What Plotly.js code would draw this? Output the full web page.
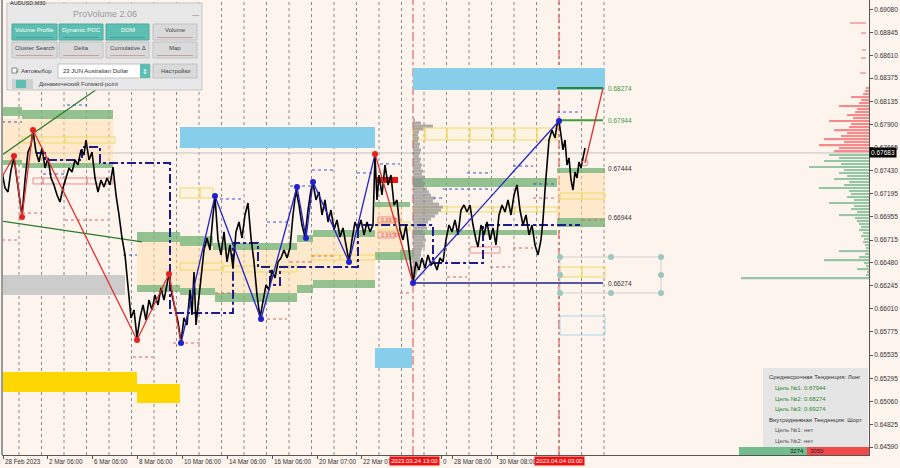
<!DOCTYPE html>
<html><head><meta charset="utf-8">
<script src="https://cdn.plot.ly/plotly-3.0.1.min.js"></script>
<style>html,body{margin:0;padding:0;background:#fdf4ee;}#chart{width:900px;height:468px;}</style>
</head><body><div id="chart"></div>
<script>
// ---------- DATA ----------
const barIdx = [2,5,8,11,14,17,20,22,25,28,31,33,36,39,42,45,48,51,54,57,60,63,66,69,72,75,78,81,84,86,89,92,95,98,101,104,107,110,113,116,119,122,125,127,129,131,134,137,140,143,146,149,152,155,158,161,164,167,169,172,175,178,181,184,187,190,192,194,196,198,201,204,207,210,213,215,218,221,224,227,230,233,236,239,242,245,248,251,254,257,260,263,266,269,272,275,278,281,284,287,290,293,296,299,302,305,308,311,313,316,319,322,325,328,331,334,337,340,343,346,349,352,355,358,361,364,367,370,373,375,377,379,382,385,388,391,394,397,400,403,406,409,411,413,416,419,422,425,428,431,434,437,440,443,446,449,452,455,458,461,464,467,470,473,476,478,481,484,487,490,493,496,499,502,505,508,511,514,517,520,523,526,529,532,535,538,541,543,545,547,549,552,555,557,559,561,563,565,567,569,571,573,575,577,579,581,583,585];
const closePrice = [0.67413,0.67249,0.67208,0.67433,0.67557,0.67351,0.67126,0.66962,0.67331,0.67618,0.67690,0.67834,0.67618,0.67516,0.67659,0.67454,0.67557,0.67351,0.67280,0.67177,0.67105,0.67249,0.67351,0.67454,0.67413,0.67536,0.67485,0.67639,0.67587,0.67741,0.67536,0.67618,0.67351,0.67208,0.67331,0.67259,0.67351,0.67280,0.67464,0.67177,0.66972,0.66736,0.66562,0.66357,0.66100,0.65916,0.65998,0.65711,0.65916,0.66049,0.65895,0.66100,0.65998,0.66152,0.66049,0.66223,0.66100,0.66254,0.66367,0.66152,0.65998,0.65875,0.65669,0.65916,0.65844,0.66203,0.65946,0.66387,0.65844,0.66049,0.66357,0.66613,0.66736,0.66613,0.66972,0.67157,0.66716,0.66562,0.66798,0.66490,0.66664,0.66428,0.66798,0.66900,0.66736,0.66972,0.67095,0.66736,0.66490,0.66152,0.65916,0.66100,0.66254,0.66203,0.66408,0.66326,0.66490,0.66531,0.66613,0.66531,0.66634,0.66972,0.67228,0.67074,0.66869,0.66746,0.67023,0.67228,0.67300,0.67126,0.67208,0.66972,0.67126,0.66900,0.67023,0.66818,0.66921,0.66746,0.66839,0.66664,0.66500,0.66716,0.66900,0.66818,0.66921,0.66767,0.66900,0.66798,0.66869,0.67587,0.67126,0.67382,0.67177,0.67485,0.67280,0.67382,0.67074,0.67126,0.66818,0.66716,0.66869,0.66613,0.66428,0.66275,0.66490,0.66408,0.66531,0.66428,0.66562,0.66459,0.66490,0.66408,0.66531,0.66490,0.66716,0.66869,0.66798,0.66921,0.66767,0.67023,0.67074,0.67003,0.67074,0.66869,0.66716,0.66644,0.66869,0.66767,0.66900,0.66716,0.66839,0.66664,0.66972,0.67074,0.67003,0.67126,0.66972,0.67177,0.67280,0.67023,0.66869,0.66972,0.66767,0.66869,0.66664,0.66562,0.66716,0.66921,0.67228,0.67536,0.67741,0.67844,0.67762,0.67895,0.67936,0.67792,0.67639,0.67741,0.67485,0.67557,0.67331,0.67228,0.67413,0.67351,0.67516,0.67454,0.67577,0.67659];

const priceTicks = [0.69080,0.68845,0.68610,0.68375,0.68135,0.67900,0.67665,0.67430,0.67195,0.66955,0.66715,0.66480,0.66245,0.66010,0.65775,0.65535,0.65295,0.65060,0.64825,0.64590];
const timeLabels = ['28 Feb 2023','2 Mar 06:00','6 Mar 06:00','8 Mar 06:00','10 Mar 06:00','14 Mar 06:00','16 Mar 06:00','20 Mar 07:00','22 Mar 07','0','28 Mar 08:00','30 Mar 08:00'];
const timeLabelBars = [3,47,92,137,182,227,272,317,361,441,452,497];
const markerLabels = ['2023.03.24 13:00','2023.04.04 03:00'];
const markerBars = [414,559];
const lastPriceText = '0.67683';
const lastPriceLine = 0.67608;

// zigzag
const zzRedX = [2,14,22,33,137,169,181,null,375,413];
const zzRedP = [0.67362,0.67577,0.66951,0.67844,0.65690,0.66367,0.65659,null,0.67597,0.66274];
const zzBlueX = [181,215,261,297,306,313,349,375,null,413,559];
const zzBlueP = [0.65659,0.67167,0.65905,0.67259,0.66736,0.67310,0.66490,0.67597,null,0.66274,0.67936];
const redDotX = [14,22,33,137,169,375];
const redDotP = [0.67577,0.66951,0.67844,0.65690,0.66367,0.67597];
const blueDotX = [181,215,261,297,306,313,349,413,559];
const blueDotP = [0.65659,0.67167,0.65905,0.67259,0.66736,0.67310,0.66490,0.66274,0.67936];
const projX = [585,603];
const projP = [0.67505,0.68274];

// trend lines
const trendUpX = [2,113], trendUpP = [0.67587,0.68377];
const trendDnX = [2,142], trendDnP = [0.66910,0.66695];

// navy step line (dash-dot)
const stepX = [37,45,45,82,82,100,100,170,170,233,233,258,258,270,270,280,280,358,358,433,433,483,483,580];
const stepP = [0.67608,0.67608,0.67536,0.67536,0.67669,0.67669,0.67505,0.67505,0.65967,0.65967,0.66685,0.66685,0.66438,0.66438,0.66254,0.66254,0.66438,0.66438,0.66869,0.66869,0.66479,0.66479,0.66869,0.66869];

// target levels
const levelNames = ['0.68274','0.67944','0.67444','0.66944','0.66274'];
const levelPrices = [0.68274,0.67944,0.67444,0.66944,0.66274];

// zones [barFrom, barTo, low, high]
const greenZones = [[2,22,0.67987,0.68079],[22,113,0.67956,0.68049],[2,22,0.67485,0.67536],[22,113,0.67454,0.67505],[137,180,0.66695,0.66797],[180,213,0.66654,0.66756],[213,297,0.66613,0.66685],[297,313,0.66695,0.66767],[313,375,0.66746,0.66818],[375,410,0.67054,0.67105],[137,180,0.66182,0.66254],[180,215,0.66151,0.66223],[215,297,0.66079,0.66172],[297,313,0.66172,0.66254],[313,375,0.66223,0.66305],[375,403,0.66510,0.66592],[413,557,0.67259,0.67351],[413,557,0.66767,0.66818],[400,413,0.66510,0.66613],[557,605,0.67403,0.67454],[557,605,0.66849,0.66941]];
const valueZones = [[2,113,0.67505,0.67956],[137,180,0.66254,0.66695],[180,213,0.66223,0.66654],[213,297,0.66172,0.66613],[297,313,0.66254,0.66695],[313,375,0.66305,0.66746],[375,403,0.66592,0.67054],[557,605,0.66941,0.67403]];
const blueZones = [[180,375,0.67659,0.67874],[413,605,0.68254,0.68480],[375,412,0.65402,0.65608]];
const goldZones = [[2,137,0.65156,0.65361],[137,180,0.65043,0.65238]];
const grayZones = [[2,125,0.66151,0.66356]];
const yellowBoxes = [[22,65,0.67710,0.67772],[65,87,0.67710,0.67772],[87,115,0.67710,0.67772],[180,200,0.67146,0.67249],[200,213,0.67146,0.67249],[180,223,0.66408,0.66479],[223,297,0.66387,0.66449],[312,340,0.66510,0.66561],[340,375,0.66510,0.66561],[378,410,0.66818,0.66900],
 [413,425,0.67741,0.67864],[425,447,0.67741,0.67864],[447,470,0.67741,0.67864],[470,493,0.67741,0.67864],[493,515,0.67741,0.67864],[515,537,0.67741,0.67864],[537,557,0.67741,0.67864],
 [413,425,0.67003,0.67054],[425,447,0.67003,0.67054],[447,470,0.67003,0.67054],[470,493,0.67003,0.67054],[493,515,0.67003,0.67054],[515,537,0.67003,0.67054],[537,557,0.67003,0.67054],
 [560,582,0.67136,0.67197],[582,605,0.67136,0.67197],[560,582,0.66336,0.66438],[582,605,0.66336,0.66438]];
const redBoxes = [[33,43,0.67290,0.67351],[43,65,0.67290,0.67351],[65,87,0.67290,0.67351],[87,113,0.67290,0.67351],[470,500,0.66582,0.66644],[378,395,0.66890,0.66951],[378,395,0.66736,0.66797]];
const redFilled = [[377,398,0.67300,0.67362]];
const dotBlue = [[67,87,0.68100],[2,22,0.67926],[43,65,0.67392],[123,137,0.66561],[220,243,0.67136],[267,290,0.66900],[290,313,0.67269],[312,333,0.67433],[357,375,0.67403],[380,400,0.67495],[433,443,0.67146],[443,490,0.67238],[467,490,0.67403],[513,533,0.67474],[533,557,0.67290],[557,580,0.68028]];
const dotRed = [[22,42,0.66992],[65,108,0.66920],[2,20,0.66715],[173,200,0.65659],[133,153,0.65515],[215,235,0.66172],[267,287,0.65905],[312,333,0.66551],[290,313,0.66490],[400,410,0.66172],[447,467,0.66336],[490,510,0.66438],[513,533,0.66633],[533,557,0.67146],[582,602,0.66920]];
const smallLabels = ['0.66753','0.66704'];
const smallLabelP = [0.66921,0.66767];

// forward-point grid
const fpX = [560,611,661,560,661,560,611,661];
const fpP = [0.66541,0.66541,0.66541,0.66356,0.66356,0.66172,0.66172,0.66172];

// volume profile at 24 Mar (gray)
const profileTop = 0.67946;
const profileVol = [2,8,20,10,6,5,6,5,7,6,8,7,6,8,7,9,8,10,9,12,10,12,11,14,16,18,22,20,26,30,28,25,22,18,15,12,14,10,12,11,13,10,12,9,8,8,7,8,6,5,5,4,3,2];
// right-side session histogram
const volSellTop = 0.68274;
const volSell = [3,4,6,18,8,10,30,12,14,22,16,40,18,20,35,22,28,45,25,50,30,35];
const volBuyTop = 0.67587;
const volBuy = [40,30,45,28,60,25,30,22,35,20,25,50,20,18,22,15,40,15,18,12,30,14,12,10,8,10,6,8,5,6,4,3,30,4,10,45,5,3,12,2,3,128];
const volSparseP = [0.68941,0.68838,0.68664,0.68582,0.68428];
const volSparse = [16,5,4,5,6];
const deltaBuy = 3274, deltaSell = 3050;

// ---------- LAYOUT HELPERS ----------
const FONT = 'Liberation Sans, Arial, sans-serif';
const PH = 455, PL = 2, PW = 867;
const py = y => 1 - y / PH;
const pxx = x => (x - PL) / PW;
const BIN = 0.000308;
const shapes = [], annotations = [];

function rectData(z, fill, lineColor, layer, dash) {
  shapes.push({type:'rect', xref:'x', yref:'y', x0:z[0], x1:z[1], y0:z[2], y1:z[3],
    fillcolor: fill, line:{width: lineColor ? 1 : 0, color: lineColor || 'rgba(0,0,0,0)', dash: dash || 'solid'}, layer: layer || 'below'});
}
function rectPx(x0,y0,x1,y1,fill,lineColor,lw) {
  shapes.push({type:'rect', xref:'paper', yref:'paper', x0:pxx(x0), x1:pxx(x1), y0:py(y1), y1:py(y0),
    fillcolor: fill, line:{width: lineColor ? (lw||1) : 0, color: lineColor || 'rgba(0,0,0,0)'}, layer:'above'});
}
function ann(x, y, text, size, color, anchor, extra) {
  annotations.push(Object.assign({xref:'paper', yref:'paper', x:pxx(x), y:py(y), text, showarrow:false,
    xanchor: anchor || 'left', yanchor:'middle', font:{family:FONT, size, color}}, extra || {}));
}

// grid (dotted verticals)
for (let g = 19; g <= 605; g += 22.5) {
  shapes.push({type:'line', xref:'x', yref:'paper', x0:g, x1:g, y0:0, y1:1, line:{color:'#8a8a8a', width:1, dash:'dot'}, layer:'below'});
}
// current price line
shapes.push({type:'line', xref:'paper', yref:'y', x0:0, x1:1, y0:lastPriceLine, y1:lastPriceLine, line:{color:'#c4c0bc', width:1}, layer:'below'});

valueZones.forEach(z => rectData(z, 'rgba(255,222,170,0.5)', null));
grayZones.forEach(z => rectData(z, '#cccccc', null));
greenZones.forEach(z => rectData(z, 'rgba(120,180,120,0.8)', null));
blueZones.forEach(z => rectData(z, '#87ceeb', null));
goldZones.forEach(z => rectData(z, '#ffd700', null));
yellowBoxes.forEach(z => rectData(z, 'rgba(255,240,190,0.25)', '#f2d862'));
redBoxes.forEach(z => rectData(z, 'rgba(255,255,255,0)', '#ee8c8c'));
redFilled.forEach(z => rectData(z, '#f01010', null));
dotBlue.forEach(d => shapes.push({type:'line', xref:'x', yref:'y', x0:d[0], x1:d[1], y0:d[2], y1:d[2], line:{color:'#4050d0', width:1, dash:'dot'}, layer:'below'}));
dotRed.forEach(d => shapes.push({type:'line', xref:'x', yref:'y', x0:d[0], x1:d[1], y0:d[2], y1:d[2], line:{color:'#e06060', width:1, dash:'dot'}, layer:'below'}));
// forward-point frame
rectData([560,661,fpP[5],fpP[0]], 'rgba(0,0,0,0)', '#d2d2d2');
rectData([560,605,0.65741,0.65936], 'rgba(0,0,0,0)', '#a8d8ea');
// vertical session lines
[413,559].forEach(b => shapes.push({type:'line', xref:'x', yref:'paper', x0:b, x1:b, y0:0, y1:1, line:{color:'#e04848', width:1, dash:'dashdot'}, layer:'below'}));
// level lines
shapes.push({type:'line', xref:'x', yref:'y', x0:557, x1:603, y0:levelPrices[0], y1:levelPrices[0], line:{color:'#2f8a2f', width:2}, layer:'below'});
shapes.push({type:'line', xref:'x', yref:'y', x0:560, x1:603, y0:levelPrices[1], y1:levelPrices[1], line:{color:'#3c9c3c', width:2}, layer:'below'});
shapes.push({type:'line', xref:'x', yref:'y', x0:413, x1:603, y0:levelPrices[4], y1:levelPrices[4], line:{color:'#20208a', width:1.5}, layer:'below'});

// level labels
const levelColors = ['#3a9a3a','#3a9a3a','#333333','#333333','#333333'];
levelNames.forEach((t,i) => annotations.push({xref:'x', yref:'y', x:606, y:levelPrices[i], text:t, showarrow:false, xanchor:'left', yanchor:'middle', font:{family:FONT, size:6.5, color:levelColors[i]}}));
smallLabels.forEach((t,i) => annotations.push({xref:'x', yref:'y', x:379, y:smallLabelP[i], text:t, showarrow:false, xanchor:'left', yanchor:'middle', font:{family:FONT, size:5.5, color:'#e04040'}}));

// x-axis labels
timeLabels.forEach((t,i) => ann(timeLabelBars[i], 461, t, 6.3, '#333'));
markerLabels.forEach((t,i) => ann(markerBars[i], 461, t, 6, '#ffffff', 'center', {bgcolor:'#f01010', borderpad:1}));
ann(8, 3, 'AUDUSD,M30', 5.5, '#222');

// ---- ProVolume panel ----
rectPx(7,3,202,90,'#e8e8e8','#c4c4c4');
ann(105,14,'ProVolume 2.06',9,'#9a9a9a','center');
ann(195,15,'—',7,'#888','center');
const panelButtons = [[12,24,57,40,'Volume Profile',true],[59,24,103,40,'Dynamic POC',true],[106,24,149,40,'DOM',true],[153,24,197,40,'Volume',false],[12,42,57,58,'Cluster Search',false],[59,42,103,58,'Delta',false],[106,42,149,58,'Cumulative Δ',false],[153,42,197,58,'Map',false],[153,64,197,78,'Настройки',false]];
panelButtons.forEach(b => {
  rectPx(b[0],b[1],b[2],b[3], b[5] ? '#5dbfb2' : '#dadada', b[5] ? '#4aa89c' : '#c2c2c2');
  ann((b[0]+b[2])/2, (b[1]+b[3])/2 - (b[4]==='Настройки'?0:1.5), b[4], 6, b[5] ? '#ffffff' : '#444', 'center');
  if (b[4] !== 'Настройки') rectPx(b[0]+4, b[3]-3, b[2]-4, b[3]-2, b[5] ? '#4a9f94' : '#c8a0a0', null);
});
rectPx(12,68,17,73,'#ffffff','#888');
ann(12.5,70.5,'✓',6,'#2a9a2a');
ann(19,71,'Автовыбор',6,'#444');
rectPx(58,64,150,78,'#ffffff','#c0c0c0');
rectPx(140,64,150,78,'#5dbfb2',null);
ann(145,71,'⇕',7,'#ffffff','center');
ann(61,71,'23 JUN Australian Dollar',6,'#333');
rectPx(12,79,33,89,'#d0d0d0',null);
rectPx(16,80,26,88,'#5dbfb2',null);
ann(37,84,'Динамический Forward-point',6,'#444');

// ---- info box ----
rectPx(763,368,868,447,'rgba(228,228,228,0.95)',null);
ann(767,377,'Среднесрочная Тенденция: Лонг',6,'#333');
ann(773,388,'Цель №1: 0.67944',6,'#2e8b2e');
ann(773,399,'Цель №2: 0.68274',6,'#2e8b2e');
ann(773,409,'Цель №3: 0.69274',6,'#2e8b2e');
ann(767,420,'Внутридневная Тенденция: Шорт',6,'#333');
ann(773,430,'Цель №1: нет',6,'#555');
ann(773,441,'Цель №2: нет',6,'#555');
rectPx(739,447,807,455,'#72bc8e',null);
rectPx(807,447,869,455,'#f04a4a',null);
ann(806,451,String(deltaBuy),6,'#222','right');
ann(808,451,String(deltaSell),6,'#222','left');

// last price box
annotations.push({xref:'paper', yref:'y', x:1, y:lastPriceLine, text:lastPriceText, showarrow:false, xanchor:'left', yanchor:'middle', bgcolor:'#000', borderpad:1, font:{family:FONT, size:6.5, color:'#fff'}});

// ---------- TRACES ----------
const binsFrom = (top, n) => Array.from({length:n}, (_, i) => top - i * BIN);
const traces = [
  {type:'bar', orientation:'h', y:binsFrom(profileTop, profileVol.length), x:profileVol, base:413, width:BIN, marker:{color:'rgba(140,140,140,0.7)', line:{width:0}}, hoverinfo:'skip'},
  {type:'bar', orientation:'h', y:binsFrom(volSellTop, volSell.length), x:volSell.map(v=>-v), base:869, width:BIN*0.7, marker:{color:'rgba(242,120,120,0.85)', line:{width:0}}, hoverinfo:'skip'},
  {type:'bar', orientation:'h', y:binsFrom(volBuyTop, volBuy.length), x:volBuy.map(v=>-v), base:869, width:BIN*0.7, marker:{color:'rgba(130,190,150,0.85)', line:{width:0}}, hoverinfo:'skip'},
  {type:'bar', orientation:'h', y:volSparseP, x:volSparse.map(v=>-v), base:866, width:BIN*0.5, marker:{color:'rgba(235,130,130,0.8)', line:{width:0}}, hoverinfo:'skip'},
  {type:'scatter', mode:'lines', x:trendUpX, y:trendUpP, line:{color:'#2a7a2a', width:1.3}, hoverinfo:'skip'},
  {type:'scatter', mode:'lines', x:trendDnX, y:trendDnP, line:{color:'#2a7a2a', width:1.3}, hoverinfo:'skip'},
  {type:'scatter', mode:'lines', x:stepX, y:stepP, line:{color:'#1c1c8f', width:2, dash:'dashdot'}, hoverinfo:'skip'},
  {type:'scatter', mode:'lines', x:barIdx, y:closePrice, line:{color:'#000', width:1.6}, hoverinfo:'skip'},
  {type:'scatter', mode:'lines', x:zzRedX, y:zzRedP, line:{color:'#e03030', width:1.3}, connectgaps:false, hoverinfo:'skip'},
  {type:'scatter', mode:'lines', x:zzBlueX, y:zzBlueP, line:{color:'#2323c8', width:1.3}, connectgaps:false, hoverinfo:'skip'},
  {type:'scatter', mode:'lines+markers', x:projX, y:projP, line:{color:'#e03030', width:1.3}, marker:{size:[6,0], color:'rgba(0,0,0,0)', line:{color:'#e06060', width:1}}, hoverinfo:'skip'},
  {type:'scatter', mode:'markers', x:redDotX, y:redDotP, marker:{size:6, color:'#e82020'}, hoverinfo:'skip'},
  {type:'scatter', mode:'markers', x:blueDotX, y:blueDotP, marker:{size:6, color:'#2020d0'}, hoverinfo:'skip'},
  {type:'scatter', mode:'markers', x:fpX, y:fpP, marker:{size:6, color:'#9cc8c0'}, hoverinfo:'skip'}
];

const layout = {
  width:900, height:468, showlegend:false, barmode:'overlay',
  paper_bgcolor:'#fdf4ee', plot_bgcolor:'#fdf4ee',
  margin:{l:PL, r:31, t:0, b:13},
  xaxis:{range:[PL, PL+PW], showgrid:false, zeroline:false, showline:true, linecolor:'#555', linewidth:1,
    tickvals:timeLabelBars, ticktext:timeLabelBars.map(()=>''), ticks:'outside', ticklen:3, tickcolor:'#555', fixedrange:true},
  yaxis:{range:[0.64510, 0.69177], side:'right', showgrid:false, zeroline:false, showline:true, linecolor:'#555', linewidth:1,
    tickvals:priceTicks, ticktext:priceTicks.map(v=>v.toFixed(5)), ticks:'outside', ticklen:3, tickcolor:'#555',
    tickfont:{family:FONT, size:6.5, color:'#333'}, fixedrange:true},
  shapes, annotations
};
shapes.push({type:'line', xref:'paper', yref:'paper', x0:0, x1:0, y0:0, y1:1, line:{color:'#999', width:2}, layer:'above'});
Plotly.newPlot('chart', traces, layout, {displayModeBar:false, staticPlot:true});
</script></body></html>
